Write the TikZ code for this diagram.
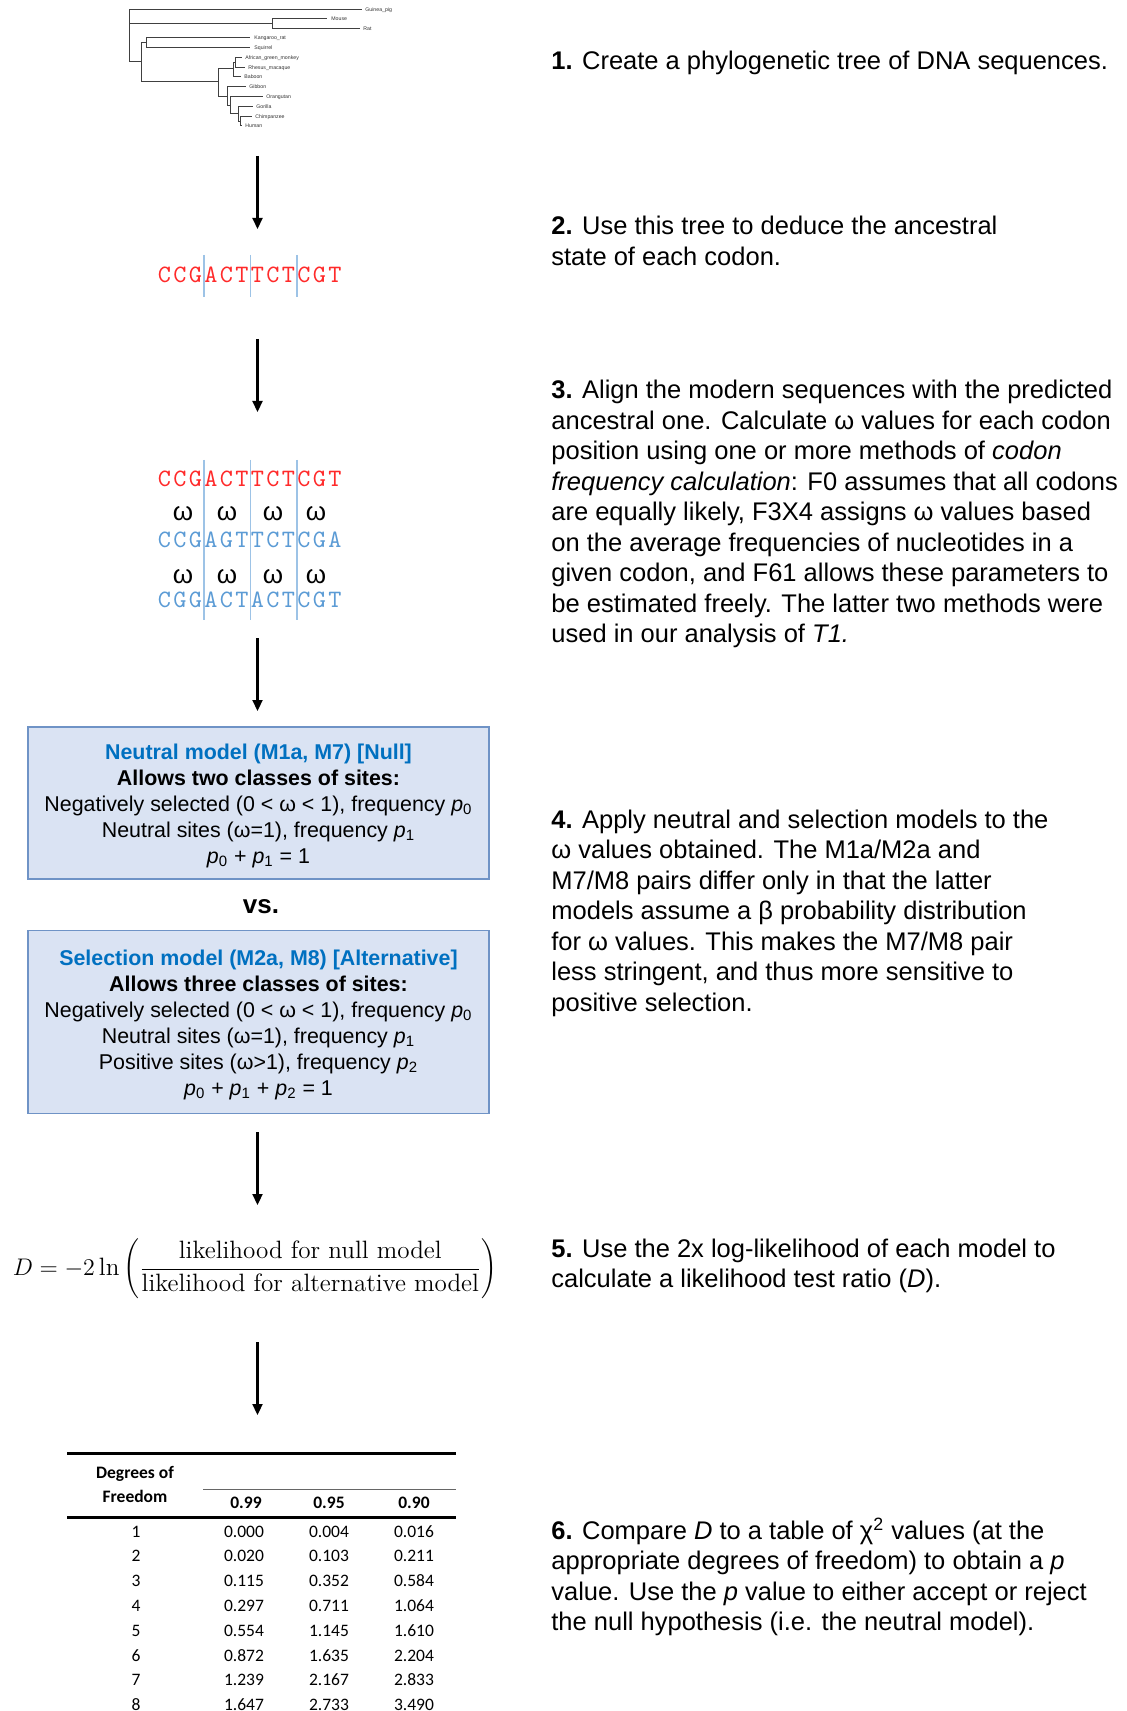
\documentclass[tikz,border=0pt]{standalone}
\usepackage{fontspec}
\usetikzlibrary{arrows.meta}
\newfontfamily\arial{Liberation Sans}
\newfontfamily\seqfont{lmmono10-regular.otf}[LetterSpace=9.5]
\newfontfamily\calib{Carlito}
\definecolor{seqred}{HTML}{FF2A2A}
\definecolor{seqblue}{HTML}{5B9BD5}
\definecolor{sepblue}{HTML}{9DC3E6}
\definecolor{boxfill}{HTML}{DAE3F3}
\definecolor{boxdraw}{HTML}{6F93C6}
\definecolor{headblue}{HTML}{0070C0}
\newcommand\plines[1]{\begin{tabular}[t]{@{}l@{}}#1\end{tabular}}
\newcommand\pp[1]{\textit{p}\textsubscript{#1}}
\begin{document}
\begin{tikzpicture}[x=0.5pt,y=-0.5pt,
  arr/.style={line width=1.1pt,-{Triangle[length=5.5pt,width=5pt]}},
  para/.style={anchor=base west,inner sep=0pt,font=\arial\fontsize{12.75}{15.25}\selectfont},
  treeline/.style={line width=0.5pt,black!75},
  leaf/.style={anchor=west,inner sep=0pt,font=\arial\fontsize{2.6}{3}\selectfont,text=black!80},
  seq/.style={anchor=base west,inner sep=0pt,font=\seqfont\fontsize{12.5}{14}\selectfont},
  om/.style={anchor=base,inner sep=0pt,font=\arial\fontsize{13}{14}\selectfont},
  sep/.style={line width=0.6pt,sepblue},
  modelbox/.style={draw=boxdraw,line width=0.8pt,fill=boxfill,inner sep=0pt,minimum width=230.5pt},
  boxtext/.style={inner sep=0pt,align=center,font=\arial\fontsize{10.7}{13}\selectfont},
  tcell/.style={anchor=base,inner sep=0pt,font=\calib\fontsize{8.75}{10}\selectfont},
  thead/.style={tcell,font=\calib\bfseries\fontsize{8.75}{10}\selectfont}]
\useasboundingbox (0,0) rectangle (1127,1711);
\fill[white] (0,0) rectangle (1127,1711);

% ---------- phylogenetic tree ----------
\draw[treeline]
  (129,10) -- (129,62)
  (129,10) -- (362,10)
  (129,24) -- (272,24) (272,19) -- (272,29) (272,19) -- (327,19) (272,29) -- (360,29)
  (129,62) -- (141,62) (141,43) -- (141,82)
  (141,43) -- (146,43) (146,38) -- (146,48) (146,38) -- (250,38) (146,48) -- (250,48)
  (141,82) -- (218,82) (218,69) -- (218,97)
  (218,69) -- (233,69) (233,63) -- (233,77) (233,63) -- (235,63) (235,58) -- (235,68)
  (235,58) -- (242,58) (235,68) -- (245,68) (233,77) -- (241,77)
  (218,97) -- (227,97) (227,87) -- (227,105.5) (227,87) -- (246,87)
  (227,105.5) -- (230,105.5) (230,97) -- (230,114) (230,97) -- (263,97)
  (230,114) -- (238,114) (238,107) -- (238,121.5) (238,107) -- (253,107)
  (238,121.5) -- (240,121.5) (240,117) -- (240,126) (240,117) -- (252,117) (240,126) -- (242,126);
\node[leaf] (gp) at (365,10) {Guinea\_pig};
\node[leaf] (mo) at (331,19) {Mouse};
\node[leaf] (ra) at (363,29) {Rat};
\node[leaf] (kr) at (254,38) {Kangaroo\_rat};
\node[leaf] (sq) at (254,48) {Squirrel};
\node[leaf] (ag) at (245,58) {African\_green\_monkey};
\node[leaf] (rm) at (248,68) {Rhesus\_macaque};
\node[leaf] (ba) at (244,77) {Baboon};
\node[leaf] (gi) at (249,87) {Gibbon};
\node[leaf] (or) at (266,97) {Orangutan};
\node[leaf] (go) at (256,107) {Gorilla};
\node[leaf] (ch) at (255,117) {Chimpanzee};
\node[leaf] (hu) at (245,126) {Human};

% ---------- ancestral sequence ----------
\node[seq,text=seqred] (anc) at (157.5,283) {CCGACTTCTCGT};
\draw[sep] (204,255) -- (204,297) (250.5,255) -- (250.5,297) (297,255) -- (297,297);

% ---------- alignment ----------
\draw[sep] (204,460) -- (204,620) (250.5,460) -- (250.5,620) (297,460) -- (297,620);
\node[seq,text=seqred] (al0) at (157.5,487) {CCGACTTCTCGT};
\node[seq,text=seqblue] (al1) at (157.5,547) {CCGAGTTCTCGA};
\node[seq,text=seqblue] (al2) at (157.5,607) {CGGACTACTCGT};
\foreach \x [count=\i] in {183,227,273,316}{
  \node[om] (wa\i) at (\x,520) {ω};
  \node[om] (wb\i) at (\x,583) {ω};
}

% ---------- model boxes ----------
\node[modelbox,minimum height=76pt] (null) at (258.5,803) {};
\node[boxtext] (nulltxt) at (258.5,806) {%
  {\bfseries\color{headblue}Neutral model (M1a, M7) [Null]}\\
  \textbf{Allows two classes of sites:}\\
  Negatively selected (0 < ω < 1), frequency \pp{0}\\
  Neutral sites (ω=1), frequency \pp{1}\\
  \pp{0} + \pp{1} = 1};
\node[font=\arial\bfseries\fontsize{13}{15}\selectfont,inner sep=0pt] (vs) at (261,907) {vs.};
\node[modelbox,minimum height=91.5pt] (alt) at (258.5,1022) {};
\node[boxtext] (alttxt) at (258.5,1024.5) {%
  {\bfseries\color{headblue}Selection model (M2a, M8) [Alternative]}\\
  \textbf{Allows three classes of sites:}\\
  Negatively selected (0 < ω < 1), frequency \pp{0}\\
  Neutral sites (ω=1), frequency \pp{1}\\
  Positive sites (ω>1), frequency \pp{2}\\
  \pp{0} + \pp{1} + \pp{2} = 1};

% ---------- likelihood ratio ----------
\node[inner sep=0pt,font=\fontsize{12.55}{14}\selectfont] (lrt) at (255,1269)
  {$\displaystyle D=-2\ln\left(\frac{\mbox{likelihood for null model}}{\mbox{likelihood for alternative model}}\right)$};

% ---------- chi-square table ----------
\draw[line width=1.5pt] (67,1453) -- (456,1453);
\draw[line width=0.5pt,black!60] (203,1489) -- (456,1489);
\draw[line width=1.5pt] (67,1517) -- (456,1517);
\node[thead] (hdf1) at (135,1478) {Degrees of};
\node[thead] (hdf2) at (135,1502) {Freedom};
\node[thead] (h1) at (246,1508) {0.99};
\node[thead] (h2) at (329,1508) {0.95};
\node[thead] (h3) at (414,1508) {0.90};
\foreach \r/\d/\a/\b/\c in {0/1/0.000/0.004/0.016, 1/2/0.020/0.103/0.211, 2/3/0.115/0.352/0.584,
  3/4/0.297/0.711/1.064, 4/5/0.554/1.145/1.610, 5/6/0.872/1.635/2.204, 6/7/1.239/2.167/2.833,
  7/8/1.647/2.733/3.490}{
  \node[tcell] (td\r) at (136,{1537+24.8*\r}) {\d};
  \node[tcell] (ta\r) at (244,{1537+24.8*\r}) {\a};
  \node[tcell] (tb\r) at (329,{1537+24.8*\r}) {\b};
  \node[tcell] (tc\r) at (414,{1537+24.8*\r}) {\c};
}

% ---------- arrows ----------
\coordinate (a1s) at (257.5,156);  \coordinate (a1e) at (257.5,229);
\coordinate (a2s) at (257.5,339);  \coordinate (a2e) at (257.5,412);
\coordinate (a3s) at (257.5,638);  \coordinate (a3e) at (257.5,711);
\coordinate (a4s) at (257.5,1132); \coordinate (a4e) at (257.5,1205);
\coordinate (a5s) at (257.5,1342); \coordinate (a5e) at (257.5,1415);
\draw[arr] (a1s) -- (a1e);
\draw[arr] (a2s) -- (a2e);
\draw[arr] (a3s) -- (a3e);
\draw[arr] (a4s) -- (a4e);
\draw[arr] (a5s) -- (a5e);

% ---------- step descriptions ----------
\node[para] (p1) at (551,70) {\plines{\textbf{1.} Create a phylogenetic tree of DNA sequences.}};
\node[para] (p2) at (551,235) {\plines{\textbf{2.} Use this tree to deduce the ancestral\\ state of each codon.}};
\node[para] (p3) at (551,399) {\plines{%
  \textbf{3.} Align the modern sequences with the predicted\\
  ancestral one. Calculate ω values for each codon\\
  position using one or more methods of \textit{codon}\\
  \textit{frequency calculation}: F0 assumes that all codons\\
  are equally likely, F3X4 assigns ω values based\\
  on the average frequencies of nucleotides in a\\
  given codon, and F61 allows these parameters to\\
  be estimated freely. The latter two methods were\\
  used in our analysis of \textit{T1.}}};
\node[para] (p4) at (551,828) {\plines{%
  \textbf{4.} Apply neutral and selection models to the\\
  ω values obtained. The M1a/M2a and\\
  M7/M8 pairs differ only in that the latter\\
  models assume a β probability distribution\\
  for ω values. This makes the M7/M8 pair\\
  less stringent, and thus more sensitive to\\
  positive selection.}};
\node[para] (p5) at (551,1257) {\plines{%
  \textbf{5.} Use the 2x log-likelihood of each model to\\
  calculate a likelihood test ratio (\textit{D}).}};
\node[para] (p6) at (551,1539) {\plines{%
  \textbf{6.} Compare \textit{D} to a table of χ\textsuperscript{2} values (at the\\
  appropriate degrees of freedom) to obtain a \textit{p}\\
  value. Use the \textit{p} value to either accept or reject\\
  the null hypothesis (i.e. the neutral model).}};
\end{tikzpicture}
\end{document}
